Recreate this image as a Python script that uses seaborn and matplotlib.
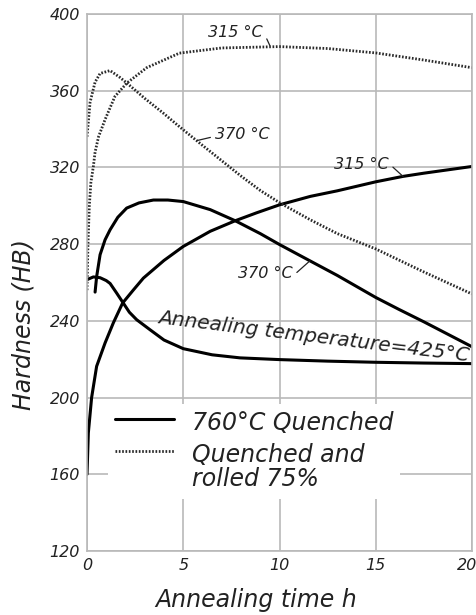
import matplotlib
matplotlib.use("Agg")
import matplotlib.pyplot as plt
from matplotlib import font_manager
from matplotlib.transforms import ScaledTranslation
import pandas as pd
import seaborn as sns

# ---- data (annealing time h, Brinell hardness HB) ----
# 760 C quenched, annealed at 315 C
q315_time = [0, 0.07, 0.24, 0.5, 0.94, 1.37, 1.85, 2.4, 2.93, 4, 5, 6.4, 7.7, 8.8,
             10, 11.6, 13, 15, 16.4, 17.5, 20]
q315_hb = [160, 181.6, 200, 216.3, 228.5, 239, 249.3, 256, 262.3, 271.5, 278.8, 286.7,
           292.2, 296.3, 300.5, 304.9, 307.8, 312.5, 315.3, 317, 320.5]
# 760 C quenched, annealed at 370 C
q370_time = [0.42, 0.5, 0.68, 0.94, 1.2, 1.6, 2.06, 2.7, 3.45, 4.2, 5, 6.4, 7.7, 9,
             10, 11.6, 13, 15, 16.2, 17.5, 20]
q370_hb = [255, 263, 274.5, 282.3, 287.5, 294, 298.8, 301.5, 303, 303, 302.2, 298,
           292.2, 285.5, 279.8, 271.2, 263.7, 252.2, 246, 239.5, 226.5]
# 760 C quenched, annealed at 425 C
q425_time = [0, 0.33, 0.68, 1.0, 1.2, 1.54, 1.87, 2.2, 2.58, 3.27, 4, 5, 6.5, 7.95,
             10, 12.5, 15, 17.5, 20]
q425_hb = [261.5, 262.9, 262.5, 261, 259.5, 254.5, 249.5, 244.5, 240.6, 235.4, 230,
           225.5, 222.3, 220.7, 219.8, 219, 218.4, 218, 217.7]
# quenched and rolled 75 %, annealed at 315 C
r315_time = [0, 0.05, 0.12, 0.2, 0.33, 0.42, 0.6, 0.94, 1.45, 2.07, 3.1, 4.8, 7, 10,
             12.5, 15, 17.5, 20]
r315_hb = [256, 280, 300, 312, 320.5, 328, 336, 345, 357, 364, 372, 379.6, 382.3, 383,
           382, 379.7, 376, 372]
# quenched and rolled 75 %, annealed at 370 C
r370_time = [0, 0.16, 0.42, 0.68, 1.2, 1.7, 2.07, 3, 4, 4.83, 6, 7, 8, 9, 10.07, 11.6,
             13, 15, 17.5, 20]
r370_hb = [336, 354, 364.5, 369, 370.5, 367, 364, 356, 348, 341, 331.5, 323.5, 315.5,
           308, 301.2, 292.7, 285.5, 277.5, 265.5, 254]

x_ticks = [0, 5, 10, 15, 20]
y_ticks = [120, 160, 200, 240, 280, 320, 360, 400]
legend_labels = ["760°C Quenched", "Quenched and\nrolled 75%"]

# ---- style ----
sns.set_theme(style="whitegrid")
plt.rcParams["font.family"] = ["DejaVu Sans"]
plt.rcParams["font.style"] = "italic"

installed = {f.name for f in font_manager.fontManager.ttflist}
narrow = "Liberation Sans Narrow" if "Liberation Sans Narrow" in installed else "DejaVu Sans"
narrow_size = 14 if narrow != "DejaVu Sans" else 11.5

fig = plt.figure(figsize=(4.76, 6.15), dpi=100)
ax = fig.add_axes([87 / 476, 1 - 551 / 615, 385 / 476, 537 / 615])
ax.set_facecolor("white")

solid_kw = dict(color="black", linewidth=2.2)
dot_kw = dict(color="#2a2a2a", linewidth=2.0, linestyle=(0, (0.6, 0.6)))

curves = [
    (q315_time, q315_hb, solid_kw, legend_labels[0]),
    (q370_time, q370_hb, solid_kw, None),
    (q425_time, q425_hb, solid_kw, None),
    (r315_time, r315_hb, dot_kw, legend_labels[1]),
    (r370_time, r370_hb, dot_kw, None),
]
for t, hb, kw, lab in curves:
    df = pd.DataFrame({"time": t, "hb": hb})
    sns.lineplot(data=df, x="time", y="hb", ax=ax, estimator=None, sort=False,
                 label=lab, legend=False, **kw)

ax.set_xlim(0, 20)
ax.set_ylim(120, 400)
ax.set_xticks(x_ticks)
ax.set_yticks(y_ticks)
ax.set_xticklabels([str(v) for v in x_ticks])
ax.set_yticklabels([str(v) for v in y_ticks])
ax.tick_params(axis="both", length=0, labelsize=narrow_size, colors="#222222", pad=5)
for lbl in ax.get_xticklabels() + ax.get_yticklabels():
    lbl.set_fontfamily(narrow)
# nudge the last x tick label inward so it stays inside the figure
last = ax.get_xticklabels()[-1]
last.set_transform(last.get_transform() + ScaledTranslation(-5 / 100, 0, fig.dpi_scale_trans))

ax.grid(True, color="#b9b9b9", linewidth=1.2)
for s in ax.spines.values():
    s.set_color("#b9b9b9")
    s.set_linewidth(1.2)

ax.set_xlabel("Annealing time h", fontsize=17, color="#222222", va="center")
ax.xaxis.set_label_coords((256 - 87) / 385, (551 - 600) / 537)
ax.set_ylabel("Hardness (HB)", fontsize=17, color="#222222", va="center")
ax.yaxis.set_label_coords((24 - 87) / 385, (551 - 325) / 537)

# curve labels with leader lines
lead = dict(arrowstyle="-", color="#222222", lw=0.9, shrinkA=1, shrinkB=0)
lab_kw = dict(ha="left", va="center", fontsize=narrow_size, family=narrow, color="#222222")
ax.annotate("315 °C", xy=(9.5, 383.5), xytext=(6.3, 390.6),
            arrowprops=dict(lead, relpos=(1, 0.6)), **lab_kw)
ax.annotate("370 °C", xy=(5.71, 334), xytext=(6.65, 337),
            arrowprops=dict(lead, relpos=(0, 0.4)), **lab_kw)
ax.annotate("315 °C", xy=(16.42, 315.3), xytext=(12.83, 321.4),
            arrowprops=dict(lead, relpos=(1, 0.6)), **lab_kw)
ax.annotate("370 °C", xy=(11.58, 271.3), xytext=(7.84, 264.8),
            arrowprops=dict(lead, relpos=(1, 0.3)), **lab_kw)
ax.text(11.8, 232.0, "Annealing temperature=425°C", ha="center", va="center",
        rotation=-7.0, rotation_mode="anchor", fontsize=14.5, color="#222222")

leg = ax.legend(loc="upper left", bbox_to_anchor=(0.0545, 0.274), frameon=True,
                framealpha=1, facecolor="white", edgecolor="none", fancybox=False,
                handlelength=2.5, handletextpad=0.75, labelspacing=0.32, borderpad=0.3,
                borderaxespad=0, fontsize=17)
for txt in leg.get_texts():
    txt.set_linespacing(1.05)
    txt.set_color("#222222")
for col in leg._legend_handle_box.get_children():
    for row in col.get_children():
        row.align = "top"

fig.savefig("out.png", dpi=100, facecolor="white")
